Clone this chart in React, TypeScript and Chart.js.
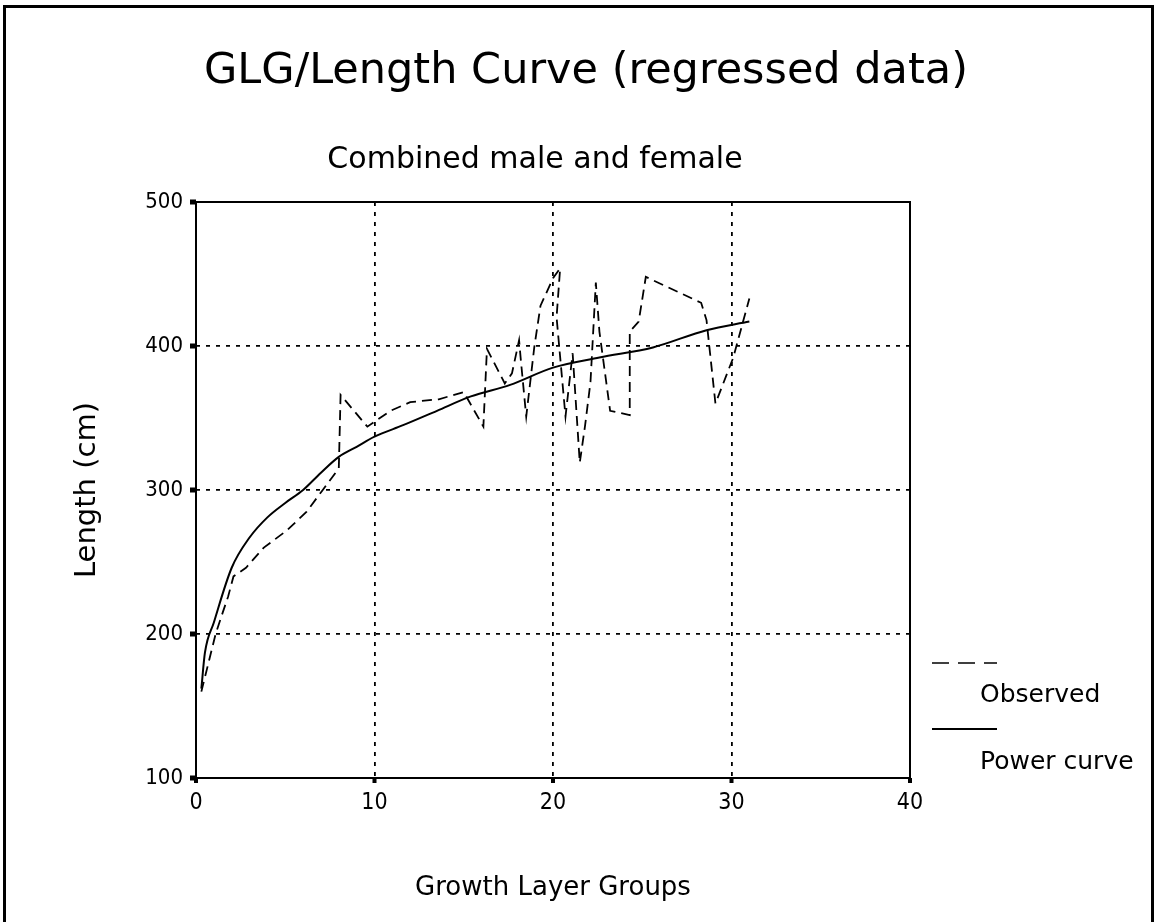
import React, { useEffect, useRef } from "react";
import { Chart, registerables } from "chart.js";
Chart.register(...registerables);

// Observed (dashed) series
const obsX = [0.3, 0.7, 1.1, 1.5, 1.8, 2.1, 2.8, 3.8, 5.1, 6.2, 7.1, 8.0, 8.1, 9.6, 10.9, 12.0, 13.6, 15.0, 16.1, 16.3, 17.3, 17.7, 18.1, 18.2, 18.5, 18.95, 19.3, 20.0, 20.4, 20.2, 20.7, 21.1, 21.5, 21.8, 22.1, 22.4, 22.6, 23.2, 24.3, 24.3, 24.8, 25.2, 28.3, 28.6, 29.1, 30.1, 31.0];
const obsY = [160, 180, 200, 215, 226, 240, 246, 260, 272, 285, 300, 315, 366, 344, 355, 361, 363, 368, 344, 398, 374, 381, 404, 390, 351, 399, 428, 447, 454, 420, 351, 395, 319, 345, 375, 444, 410, 355, 352, 410, 417, 448, 430, 418, 360, 392, 433];

// Power curve (solid) series
const powX = [0.3, 0.5, 1, 2, 3, 4, 5, 6, 7, 8, 9, 10, 11.6, 13.5, 15.4, 17.6, 20, 22.6, 25.6, 28.6, 31];
const powY = [162, 187, 208, 246, 267, 281, 291, 300, 312, 323, 330, 337, 345, 355, 365, 373, 385, 392, 399, 411, 417];

const xTicks = [0, 10, 20, 30, 40];
const yTicks = [100, 200, 300, 400, 500];

const titleText = "GLG/Length Curve (regressed data)";
const subtitleText = "Combined male and female";
const xTitleText = "Growth Layer Groups";
const yTitleText = "Length (cm)";
const legendLabels = ["Observed", "Power curve"];

const FONT = "'DejaVu Sans', 'Liberation Sans', Arial, sans-serif";
const TICK_FONT = "'Liberation Sans Narrow', 'DejaVu Sans Condensed', 'Liberation Sans', sans-serif";

const decor = {
  id: "decor",
  beforeDatasetsDraw(chart: any) {
    const { ctx, chartArea: a } = chart;
    ctx.save();
    ctx.strokeStyle = "#000";
    ctx.fillStyle = "#000";
    ctx.lineWidth = 2;
    ctx.setLineDash([]);
    ctx.strokeRect(a.left, a.top, a.right - a.left, a.bottom - a.top);
    const ys = chart.scales.y;
    yTicks.forEach((v) => {
      const y = ys.getPixelForValue(v);
      ctx.fillRect(a.left - 6, y - 2.5, 6, 5);
    });
    const xs = chart.scales.x;
    xTicks.forEach((v) => {
      const x = xs.getPixelForValue(v);
      ctx.fillRect(x - 2, a.bottom, 4, 5);
    });
    ctx.restore();
  },
  afterDraw(chart: any) {
    const { ctx } = chart;
    ctx.save();
    // outer frame
    ctx.strokeStyle = "#000";
    ctx.lineWidth = 3;
    ctx.strokeRect(4.5, 6.5, 1148, 1000);
    ctx.fillStyle = "#000";
    ctx.textAlign = "center";
    ctx.textBaseline = "middle";
    ctx.font = `43px ${FONT}`;
    ctx.fillText(titleText, 586, 72);
    ctx.font = `30px ${FONT}`;
    ctx.fillText(subtitleText, 535, 160);
    // legend
    ctx.lineWidth = 1.5;
    ctx.setLineDash([17, 9]);
    ctx.beginPath();
    ctx.moveTo(932, 663);
    ctx.lineTo(997, 663);
    ctx.stroke();
    ctx.setLineDash([]);
    ctx.lineWidth = 2;
    ctx.beginPath();
    ctx.moveTo(932, 729);
    ctx.lineTo(997, 729);
    ctx.stroke();
    ctx.textAlign = "left";
    ctx.font = `25px ${FONT}`;
    ctx.fillText(legendLabels[0], 980, 695);
    ctx.fillText(legendLabels[1], 980, 762);
    ctx.restore();
  },
};

export default function App() {
  const ref = useRef<HTMLCanvasElement>(null);
  useEffect(() => {
    if (!ref.current) return;
    const chart = new Chart(ref.current, {
      type: "line",
      data: {
        datasets: [
          {
            label: legendLabels[0],
            data: obsX.map((x, i) => ({ x, y: obsY[i] })),
            borderColor: "#000",
            borderWidth: 1.8,
            borderDash: [10, 6],
            pointRadius: 0,
            tension: 0,
            fill: false,
          },
          {
            label: legendLabels[1],
            data: powX.map((x, i) => ({ x, y: powY[i] })),
            borderColor: "#000",
            borderWidth: 2,
            pointRadius: 0,
            cubicInterpolationMode: "monotone",
            fill: false,
          },
        ],
      },
      options: {
        responsive: false,
        animation: false,
        layout: { padding: { left: 0, top: 202, right: 245, bottom: 0 } },
        plugins: {
          legend: { display: false },
          tooltip: { enabled: false },
          title: { display: false },
        },
        scales: {
          x: {
            type: "linear",
            min: 0,
            max: 40,
            afterFit: (s: any) => {
              s.height = 144;
            },
            afterBuildTicks: (s: any) => {
              s.ticks = xTicks.map((v) => ({ value: v }));
            },
            ticks: { color: "#000", padding: 11, font: { family: TICK_FONT, size: 23 }, maxRotation: 0 },
            grid: { color: "#000", lineWidth: 1.8, drawTicks: false },
            border: { display: false, dash: [4, 6] },
            title: { display: true, text: xTitleText, color: "#000", font: { family: FONT, size: 26 }, padding: { top: 0, bottom: 18 } },
          },
          y: {
            type: "linear",
            min: 100,
            max: 500,
            afterFit: (s: any) => {
              s.width = 196;
            },
            afterBuildTicks: (s: any) => {
              s.ticks = yTicks.map((v) => ({ value: v }));
            },
            ticks: { color: "#000", padding: 13, font: { family: TICK_FONT, size: 22 } },
            grid: { color: "#000", lineWidth: 1.8, drawTicks: false },
            border: { display: false, dash: [4, 6] },
            title: { display: true, text: yTitleText, color: "#000", font: { family: FONT, size: 29 }, padding: { top: 70, bottom: 0 } },
          },
        },
      },
      plugins: [decor],
    });
    return () => chart.destroy();
  }, []);
  return (
    <div style={{ position: "fixed", left: 0, top: 0, width: 1155, height: 922, background: "#fff" }}>
      <canvas ref={ref} width={1155} height={922} style={{ display: "block" }} />
    </div>
  );
}
